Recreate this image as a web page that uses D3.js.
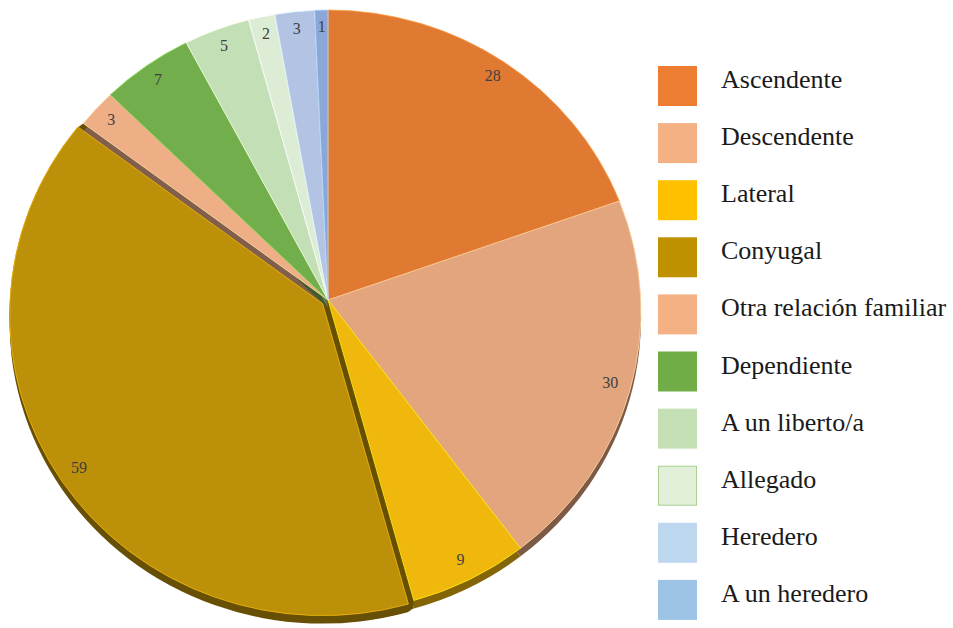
<!DOCTYPE html>
<html>
<head>
<meta charset="utf-8">
<script src="https://cdn.jsdelivr.net/npm/d3@7"></script>
<style>
  html, body { margin: 0; padding: 0; background: #ffffff; }
  svg { display: block; }
</style>
</head>
<body>
<svg id="chart" width="953" height="628"></svg>
<script>
// ---- Data ----
const categories = ["Ascendente", "Descendente", "Lateral", "Conyugal", "Otra relación familiar",
                    "Dependiente", "A un liberto/a", "Allegado", "Heredero", "A un heredero"];
const values = [28, 30, 9, 59, 3, 7, 5, 2, 3, 1];
const sliceColors = ["#E07A33", "#E3A57E", "#F0B80C", "#BD9009", "#EEAF87",
                     "#72AE4B", "#C3DFB5", "#DDEDD5", "#B2C3E4", "#8AA7D8"];
const legendColors = ["#ED7D31", "#F4B183", "#FFC000", "#BF9000", "#F4B183",
                      "#70AD47", "#C5E0B4", "#E2F0D9", "#BDD7EE", "#9DC3E6"];
const explodedCategory = "Conyugal";

// ---- Layout ----
const svg = d3.select("#chart");
const apex = {x: 328, y: 300};
const ell = {cx: 328, cy: 311, rx: 313, ry: 301};
const depth = 8;
const explode = 6.5;

const pie = d3.pie().sort(null).value(d => d.value).startAngle(0).endAngle(2 * Math.PI);
const data = categories.map((c, i) => ({cat: c, value: values[i], color: sliceColors[i], legend: legendColors[i]}));
const arcs = pie(data);

function ellPoint(a) {
  return [ell.cx + ell.rx * Math.sin(a), ell.cy - ell.ry * Math.cos(a)];
}
function offsetOf(d) {
  if (d.data.cat !== explodedCategory) return [0, 0];
  const m = (d.startAngle + d.endAngle) / 2;
  return [explode * Math.sin(m), -explode * Math.cos(m)];
}
function slicePath(d) {
  const p0 = ellPoint(d.startAngle), p1 = ellPoint(d.endAngle);
  const large = (d.endAngle - d.startAngle) > Math.PI ? 1 : 0;
  return `M${apex.x},${apex.y}L${p0[0]},${p0[1]}A${ell.rx},${ell.ry} 0 ${large} 1 ${p1[0]},${p1[1]}Z`;
}

const gPie = svg.append("g");

// extrusion / side walls: copies from the rest position to the exploded one, and downwards by depth
const steps = [0, 0.25, 0.5, 0.75, 1];
const sideData = [];
arcs.forEach(d => {
  const o = offsetOf(d);
  const exploded = d.data.cat === explodedCategory;
  (exploded ? steps : [1]).forEach(t => {
    [0, depth / 2, depth].forEach(dz => {
      if (!exploded && dz < depth) return;
      sideData.push({arc: d, dx: o[0] * t, dy: o[1] * t + dz});
    });
  });
});
gPie.selectAll("path.side").data(sideData).enter().append("path")
  .attr("class", "side")
  .attr("d", s => slicePath(s.arc))
  .attr("transform", s => `translate(${s.dx},${s.dy})`)
  .attr("fill", s => d3.color(s.arc.data.color).darker(1.7))
  .attr("stroke", "none");

// top faces
gPie.selectAll("path.top").data(arcs).enter().append("path")
  .attr("class", "top")
  .attr("d", slicePath)
  .attr("transform", d => { const o = offsetOf(d); return `translate(${o[0]},${o[1]})`; })
  .attr("fill", d => d.data.color)
  .attr("stroke", d => d3.color(d.data.color).brighter(0.7))
  .attr("stroke-opacity", 0.8)
  .attr("stroke-width", 1);

// value labels
gPie.selectAll("text.val").data(arcs).enter().append("text")
  .attr("class", "val")
  .attr("x", d => { const m = (d.startAngle + d.endAngle) / 2; const p = ellPoint(m); const o = offsetOf(d);
                    return apex.x + 0.935 * (p[0] - apex.x) + o[0]; })
  .attr("y", d => { const m = (d.startAngle + d.endAngle) / 2; const p = ellPoint(m); const o = offsetOf(d);
                    return apex.y + 0.935 * (p[1] - apex.y) + o[1] - 2; })
  .attr("text-anchor", "middle")
  .attr("dominant-baseline", "central")
  .attr("font-family", "'Liberation Serif', 'Times New Roman', serif")
  .attr("font-size", 16)
  .attr("fill", "#404040")
  .text(d => d.data.value);

// ---- Legend ----
const legendY = d3.scaleBand().domain(categories).range([66, 66 + 57.1 * categories.length]).paddingInner(0).paddingOuter(0);
const gLeg = svg.append("g");
const items = gLeg.selectAll("g.item").data(data).enter().append("g")
  .attr("class", "item")
  .attr("transform", d => `translate(0,${legendY(d.cat)})`);
items.append("rect")
  .attr("x", d => d.cat === "Allegado" ? 658.5 : 658)
  .attr("y", d => d.cat === "Allegado" ? 0.5 : 0)
  .attr("width", d => d.cat === "Allegado" ? 38 : 39)
  .attr("height", d => d.cat === "Allegado" ? 39 : 40)
  .attr("fill", d => d.legend)
  .attr("stroke", d => d.cat === "Allegado" ? "#A9D18E" : "none")
  .attr("stroke-width", 1);
items.append("text")
  .attr("x", 721)
  .attr("y", 22)
  .attr("font-family", "'Liberation Serif', 'Times New Roman', serif")
  .attr("font-size", 26)
  .attr("fill", "#1a1a1a")
  .text(d => d.cat);
</script>
</body>
</html>
